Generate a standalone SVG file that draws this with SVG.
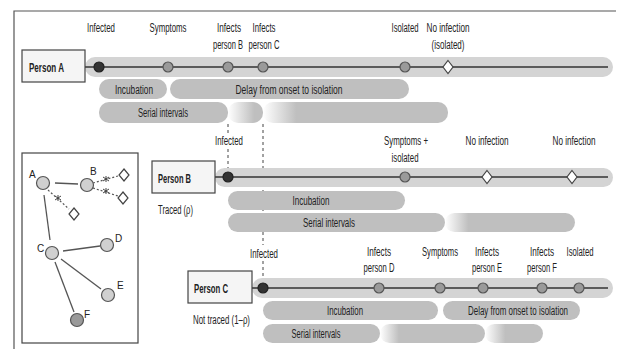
<svg xmlns="http://www.w3.org/2000/svg" width="620" height="349" viewBox="0 0 620 349">
<style>
text{font-family:"Liberation Sans",Arial,sans-serif;fill:#222;}
.lbl{font-size:12.5px;text-anchor:middle;}
.bar{font-size:12.5px;text-anchor:middle;}
.pers{font-size:13px;font-weight:bold;}
.note{font-size:12.5px;}
.nl{font-size:10px;}
.track{fill:#d4d4d4;}
.bg{fill:#bfbfbf;}
.tl{stroke:#333;stroke-width:1.5;fill:none;}
.box{fill:#f5f5f5;stroke:#444;stroke-width:1.2;}
.inf{fill:#333;stroke:#222;stroke-width:1.2;}
.ev{fill:#9a9a9a;stroke:#555;stroke-width:1.2;}
.dia{fill:#fff;stroke:#444;stroke-width:1.2;}
.dash{stroke:#444;stroke-width:1;stroke-dasharray:3,3;fill:none;}
.edge{stroke:#555;stroke-width:1.3;fill:none;}
.dot{stroke:#555;stroke-width:1.2;stroke-dasharray:2,2;fill:none;}
.nd{fill:#d0d0d0;stroke:#555;stroke-width:1.2;}
</style>
<defs>
<linearGradient id="fS" x1="0" y1="0" x2="1" y2="0"><stop offset="0" stop-color="#fff"/><stop offset="0.75" stop-color="#bfbfbf"/></linearGradient>
<linearGradient id="fM" x1="0" y1="0" x2="1" y2="0"><stop offset="0" stop-color="#fff"/><stop offset="0.35" stop-color="#bfbfbf"/></linearGradient>
<linearGradient id="fL" x1="0" y1="0" x2="1" y2="0"><stop offset="0" stop-color="#fff"/><stop offset="0.18" stop-color="#bfbfbf"/></linearGradient>
<path id="dm" d="M0,-6.5 L5,0 L0,6.5 L-5,0 Z"/>
<path id="dms" d="M0,-6 L5,0 L0,6 L-5,0 Z"/>
</defs>

<!-- frame -->
<path d="M14,349 L14,11 L616,11" fill="none" stroke="#555" stroke-width="1.2"/>

<!-- connectors (dashed links between timelines) -->
<g id="connectors">
<path class="dash" d="M228,124 L228,134 M228,149 L228,172"/>
<path class="dash" d="M263,124 L263,245 M263,261 L263,283"/>
</g>

<!-- Person A -->
<g id="personA">
<rect class="track" x="85" y="57" width="528" height="20" rx="10"/>
<line class="tl" x1="85" y1="67" x2="608" y2="67"/>
<rect class="box" x="22" y="50" width="63" height="32"/>
<text class="pers" x="29" y="71.5" textLength="35" lengthAdjust="spacingAndGlyphs">Person A</text>
<circle class="inf" cx="99" cy="67" r="5"/>
<circle class="ev" cx="168" cy="67" r="5"/>
<circle class="ev" cx="228" cy="67" r="5"/>
<circle class="ev" cx="263" cy="67" r="5"/>
<circle class="ev" cx="405" cy="67" r="5"/>
<use href="#dm" x="448" y="67" class="dia"/>
<text class="lbl" x="101" y="31.5" textLength="28" lengthAdjust="spacingAndGlyphs">Infected</text>
<text class="lbl" x="168" y="31.5" textLength="37" lengthAdjust="spacingAndGlyphs">Symptoms</text>
<text class="lbl" x="229" y="31.5" textLength="24" lengthAdjust="spacingAndGlyphs">Infects</text>
<text class="lbl" x="228" y="48.5" textLength="30" lengthAdjust="spacingAndGlyphs">person B</text>
<text class="lbl" x="264" y="31.5" textLength="23" lengthAdjust="spacingAndGlyphs">Infects</text>
<text class="lbl" x="264" y="48.5" textLength="31" lengthAdjust="spacingAndGlyphs">person C</text>
<text class="lbl" x="405" y="31.5" textLength="27" lengthAdjust="spacingAndGlyphs">Isolated</text>
<text class="lbl" x="448" y="31.5" textLength="43" lengthAdjust="spacingAndGlyphs">No infection</text>
<text class="lbl" x="448" y="48.5" textLength="33" lengthAdjust="spacingAndGlyphs">(isolated)</text>
<rect class="bg" x="99" y="79" width="68" height="20" rx="10"/>
<rect class="bg" x="170" y="79" width="239" height="20" rx="10"/>
<text class="bar" x="134" y="93.5" textLength="38" lengthAdjust="spacingAndGlyphs">Incubation</text>
<text class="bar" x="289" y="93.5" textLength="107" lengthAdjust="spacingAndGlyphs">Delay from onset to isolation</text>
<rect class="bg" x="99" y="102" width="129" height="21" rx="10"/>
<rect x="228" y="102" width="35" height="21" rx="10" fill="url(#fS)"/>
<rect x="263" y="102" width="185" height="21" rx="10" fill="url(#fL)"/>
<text class="bar" x="163" y="117" textLength="50" lengthAdjust="spacingAndGlyphs">Serial intervals</text>
</g>

<!-- Person B -->
<g id="personB">
<rect class="track" x="215" y="168" width="398" height="19" rx="9.5"/>
<line class="tl" x1="215" y1="177" x2="608" y2="177"/>
<rect class="box" x="152" y="161" width="63" height="32"/>
<text class="pers" x="158" y="182.5" textLength="33" lengthAdjust="spacingAndGlyphs">Person B</text>
<circle class="inf" cx="228" cy="177" r="5"/>
<circle class="ev" cx="405" cy="177" r="5"/>
<use href="#dm" x="487" y="177" class="dia"/>
<use href="#dm" x="572" y="177" class="dia"/>
<text class="lbl" x="229" y="145" textLength="28" lengthAdjust="spacingAndGlyphs">Infected</text>
<text class="lbl" x="406" y="145" textLength="44" lengthAdjust="spacingAndGlyphs">Symptoms +</text>
<text class="lbl" x="405" y="162" textLength="27" lengthAdjust="spacingAndGlyphs">isolated</text>
<text class="lbl" x="487" y="145" textLength="43" lengthAdjust="spacingAndGlyphs">No infection</text>
<text class="lbl" x="574" y="145" textLength="43" lengthAdjust="spacingAndGlyphs">No infection</text>
<text class="note" x="158" y="214" textLength="35" lengthAdjust="spacingAndGlyphs">Traced (ρ)</text>
<rect class="bg" x="228" y="191" width="177" height="19" rx="9.5"/>
<text class="bar" x="311" y="204.5" textLength="37" lengthAdjust="spacingAndGlyphs">Incubation</text>
<rect class="bg" x="228" y="213" width="217" height="19" rx="9.5"/>
<rect x="445" y="213" width="130" height="19" rx="9.5" fill="url(#fL)"/>
<text class="bar" x="329" y="227" textLength="52" lengthAdjust="spacingAndGlyphs">Serial intervals</text>
</g>

<!-- Person C -->
<g id="personC">
<rect class="track" x="252" y="278" width="361" height="20" rx="10"/>
<line class="tl" x1="252" y1="288" x2="608" y2="288"/>
<rect class="box" x="188" y="271" width="64" height="32"/>
<text class="pers" x="194" y="293" textLength="34" lengthAdjust="spacingAndGlyphs">Person C</text>
<circle class="inf" cx="263" cy="288" r="5"/>
<circle class="ev" cx="379" cy="288" r="5"/>
<circle class="ev" cx="440" cy="288" r="5"/>
<circle class="ev" cx="483" cy="288" r="5"/>
<circle class="ev" cx="542" cy="288" r="5"/>
<circle class="ev" cx="579" cy="288" r="5"/>
<text class="lbl" x="264" y="257.5" textLength="28" lengthAdjust="spacingAndGlyphs">Infected</text>
<text class="lbl" x="379" y="256" textLength="24" lengthAdjust="spacingAndGlyphs">Infects</text>
<text class="lbl" x="379" y="271.5" textLength="31" lengthAdjust="spacingAndGlyphs">person D</text>
<text class="lbl" x="440" y="256" textLength="36" lengthAdjust="spacingAndGlyphs">Symptoms</text>
<text class="lbl" x="487" y="256" textLength="24" lengthAdjust="spacingAndGlyphs">Infects</text>
<text class="lbl" x="487" y="271.5" textLength="30" lengthAdjust="spacingAndGlyphs">person E</text>
<text class="lbl" x="542" y="256" textLength="24" lengthAdjust="spacingAndGlyphs">Infects</text>
<text class="lbl" x="542" y="271.5" textLength="30" lengthAdjust="spacingAndGlyphs">person F</text>
<text class="lbl" x="580" y="256" textLength="27" lengthAdjust="spacingAndGlyphs">Isolated</text>
<text class="note" x="193" y="324" textLength="57" lengthAdjust="spacingAndGlyphs">Not traced (1–ρ)</text>
<rect class="bg" x="263" y="301" width="175" height="19" rx="9.5"/>
<rect class="bg" x="443" y="301" width="137" height="19" rx="9.5"/>
<text class="bar" x="345" y="315" textLength="36" lengthAdjust="spacingAndGlyphs">Incubation</text>
<text class="bar" x="518" y="315" textLength="100" lengthAdjust="spacingAndGlyphs">Delay from onset to isolation</text>
<rect class="bg" x="263" y="324" width="117" height="19" rx="9.5"/>
<rect x="380" y="324" width="105" height="19" rx="9.5" fill="url(#fL)"/>
<rect x="485" y="324" width="58" height="19" rx="9.5" fill="url(#fM)"/>
<text class="bar" x="316" y="338" textLength="49" lengthAdjust="spacingAndGlyphs">Serial intervals</text>
</g>

<!-- Network inset -->
<g id="network">
<rect x="22" y="153" width="116" height="190" fill="#fff" stroke="#444" stroke-width="1.2"/>
<g id="edges">
<line class="edge" x1="55" y1="183" x2="78" y2="184"/>
<line class="edge" x1="44" y1="195" x2="50" y2="240"/>
<line class="edge" x1="63" y1="251" x2="100" y2="246"/>
<line class="edge" x1="61" y1="259" x2="101" y2="289"/>
<line class="edge" x1="55" y1="262" x2="74" y2="312"/>
<line class="dot" x1="93" y1="183" x2="118" y2="176"/>
<line class="dot" x1="93" y1="188" x2="118" y2="196"/>
<line class="dot" x1="48" y1="190" x2="69" y2="209"/>
<path d="M103,177 L109,181 M109,177 L103,181 M106,176 L106,182" stroke="#444" stroke-width="1"/>
<path d="M103,189 L109,193 M109,189 L103,193 M106,188 L106,194" stroke="#444" stroke-width="1"/>
<path d="M55,196 L61,200 M61,196 L55,200 M58,195 L58,201" stroke="#444" stroke-width="1"/>
</g>
<g id="nodeA"><circle class="nd" cx="43" cy="183" r="6.5"/><text class="nl" x="29" y="178">A</text></g>
<g id="nodeB"><circle class="nd" cx="87" cy="185" r="6.5"/><text class="nl" x="90" y="175">B</text></g>
<g id="nodeC"><circle class="nd" cx="52" cy="253" r="6.5"/><text class="nl" x="37" y="252">C</text></g>
<g id="nodeD"><circle class="nd" cx="107" cy="245" r="6.5"/><text class="nl" x="115" y="242">D</text></g>
<g id="nodeE"><circle class="nd" cx="108" cy="295" r="6.5"/><text class="nl" x="117" y="289">E</text></g>
<g id="nodeF"><circle class="ev" cx="77" cy="320" r="6.5"/><text class="nl" x="84" y="318">F</text></g>
<use href="#dms" x="124" y="175" class="dia"/>
<use href="#dms" x="123" y="198" class="dia"/>
<use href="#dms" x="74" y="214" class="dia"/>
</g>
</svg>
